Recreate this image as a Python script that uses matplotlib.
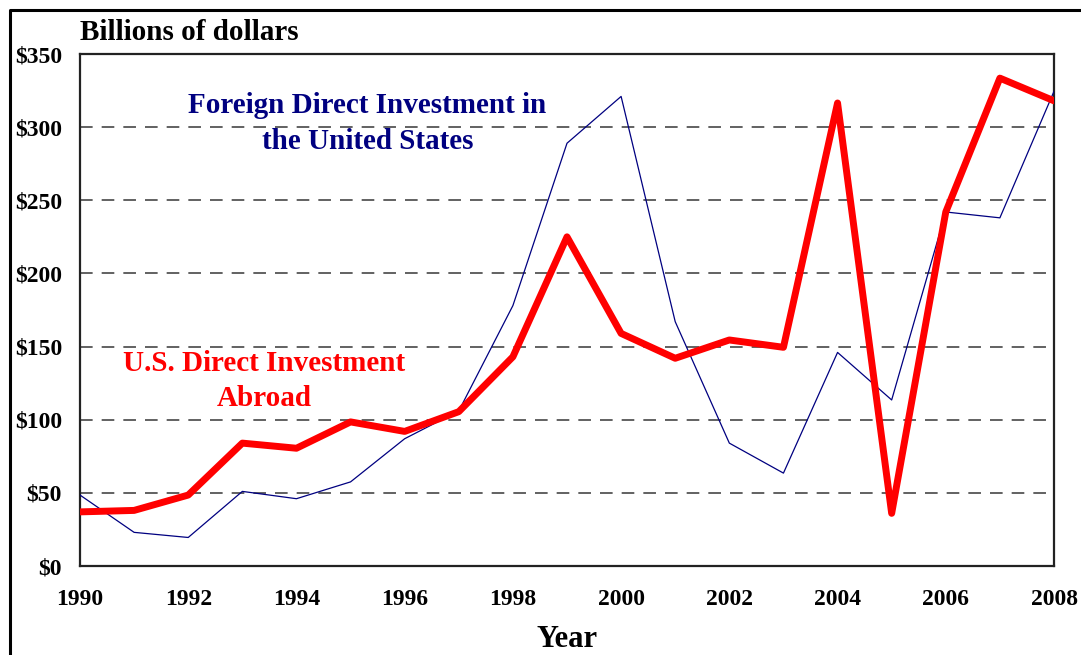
import matplotlib.pyplot as plt
from matplotlib.lines import Line2D

years = list(range(1990, 2009))
us_abroad = [37, 38, 48.5, 84, 80.5, 98.5, 92, 105.5, 143, 225, 159,
             142, 154.5, 149.5, 316.5, 36, 242, 333.5, 318]
fdi_us = [48.5, 23, 19.5, 51, 46, 57.5, 87, 106, 178, 289, 321,
          167, 84, 63.5, 146, 113.5, 242, 238, 324.5]
y_ticks = [0, 50, 100, 150, 200, 250, 300, 350]
x_ticks = list(range(1990, 2009, 2))

plt.rcParams['font.family'] = ['Liberation Serif', 'DejaVu Serif']
plt.rcParams['font.weight'] = 'bold'


def main():
    fig = plt.figure(figsize=(10.81, 6.55), dpi=100)
    ax = fig.add_axes([80 / 1081, 89 / 655, 974 / 1081, 512 / 655])

    for v in y_ticks[1:-1]:
        ax.axhline(v, color='#555555', lw=1.3, ls=(0, (7, 5)), zorder=1)

    ax.plot(years, fdi_us, color='#000080', lw=0.9, zorder=3)
    ax.plot(years, us_abroad, color='#ff0000', lw=5, zorder=4,
            solid_capstyle='round', solid_joinstyle='round')

    ax.set_xlim(1990, 2008)
    ax.set_ylim(0, 350)
    ax.set_xticks(x_ticks)
    ax.set_xticklabels([str(x) for x in x_ticks], fontsize=17, fontweight='bold')
    ax.set_yticks(y_ticks)
    ax.set_yticklabels(['$%d' % v for v in y_ticks], fontsize=17, fontweight='bold')
    ax.tick_params(axis='both', length=0)
    ax.tick_params(axis='y', pad=13)
    ax.tick_params(axis='x', pad=16.5)
    for s in ax.spines.values():
        s.set_linewidth(1.6)
        s.set_color('#222222')

    ax.set_xlabel('Year', fontsize=22, fontweight='bold', labelpad=11)
    fig.text(80 / 1081, 1 - 33 / 655, 'Billions of dollars', fontsize=21,
             fontweight='bold', va='center', ha='left')

    ax.text(1995.31, 302.5, 'Foreign Direct Investment in\nthe United States',
            color='#000080', fontsize=21, fontweight='bold',
            ha='center', va='center', linespacing=1.45)
    ax.text(1993.4, 126.5, 'U.S. Direct Investment\nAbroad',
            color='#ff0000', fontsize=21, fontweight='bold',
            ha='center', va='center', linespacing=1.35)

    # outer frame, only left and top are visible
    x0 = 10 / 1081
    y0 = 1 - 10 / 655
    fig.add_artist(Line2D([x0, x0, 1], [0, y0, y0], color='black', lw=2.2,
                          transform=fig.transFigure))

    fig.savefig('out.png', dpi=100)


if __name__ == '__main__':
    main()
